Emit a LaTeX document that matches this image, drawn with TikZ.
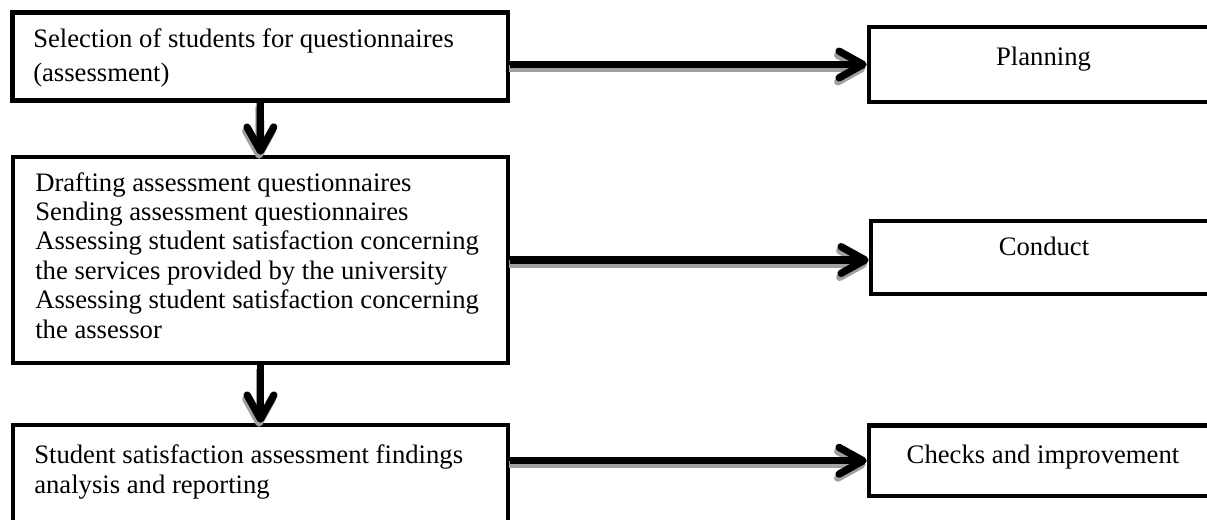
\documentclass[tikz,border=0pt]{standalone}
\usepackage{fontspec}
\setmainfont{Liberation Serif}
\usetikzlibrary{arrows.meta}
\definecolor{shadowgray}{RGB}{160,160,160}
\begin{document}
\begin{tikzpicture}[x=0.75pt,y=-0.75pt,
  box/.style={draw, line width=3.4pt, inner sep=0pt, fill=white},
  txt/.style={inner sep=0pt, align=left},
  flow/.style={line width=5.5pt, -{Straight Barb[length=18pt,width=20pt,round]}},
  flowshadow/.style={flow, draw=shadowgray, transform canvas={xshift=-1pt,yshift=-3pt}}]
\useasboundingbox (0,0) rectangle (1207,519);
% boxes
\node[box, minimum width=371.6pt, minimum height=66pt]    (B1) at (260.25,56.5) {};
\node[box, minimum width=371.25pt, minimum height=154.5pt] (B2) at (260.5,260) {};
\node[box, minimum width=371.25pt, minimum height=82.5pt]  (B3) at (260.5,480) {};
\node[box, minimum width=261.75pt, minimum height=56.25pt] (P)  at (1043.5,64.5) {};
\node[box, minimum width=260.25pt, minimum height=54.75pt] (C)  at (1044.5,257.5) {};
\node[box, minimum width=261.75pt, minimum height=52.9pt]  (K)  at (1043.5,460.75) {};
% texts (base anchor = baseline of the last line)
\node[txt, anchor=base west, font=\fontsize{20}{25.5}\selectfont] (t1) at (33,81)
  {Selection of students for questionnaires\\(assessment)};
\node[txt, anchor=base west, font=\fontsize{20}{22.05}\selectfont] (t2) at (35,338)
  {Drafting assessment questionnaires\\Sending assessment questionnaires\\Assessing student satisfaction concerning\\the services provided by the university\\Assessing student satisfaction concerning\\the assessor};
\node[txt, anchor=base west, font=\fontsize{20}{22.5}\selectfont] (t3) at (34,493)
  {Student satisfaction assessment findings\\analysis and reporting};
\node[txt, anchor=base, font=\fontsize{20}{24}\selectfont] (tP) at (1043.5,65) {Planning};
\node[txt, anchor=base, font=\fontsize{20}{24}\selectfont] (tC) at (1044,255) {Conduct};
\node[txt, anchor=base, font=\fontsize{20}{24}\selectfont] (tK) at (1043,463) {Checks and improvement};
% connector shadows
\draw[flowshadow] (P.west -| B1.east) -- (P.west);
\draw[flowshadow] (B2.east) -- (B2.east -| C.west);
\draw[flowshadow] (K.west -| B3.east) -- (K.west);
\draw[flowshadow] (B1.south) -- (B2.north);
\draw[flowshadow] (B2.south) -- (B3.north);
% connectors
\draw[flow] (P.west -| B1.east) -- (P.west);
\draw[flow] (B2.east) -- (B2.east -| C.west);
\draw[flow] (K.west -| B3.east) -- (K.west);
\draw[flow] (B1.south) -- (B2.north);
\draw[flow] (B2.south) -- (B3.north);
\end{tikzpicture}
\end{document}
